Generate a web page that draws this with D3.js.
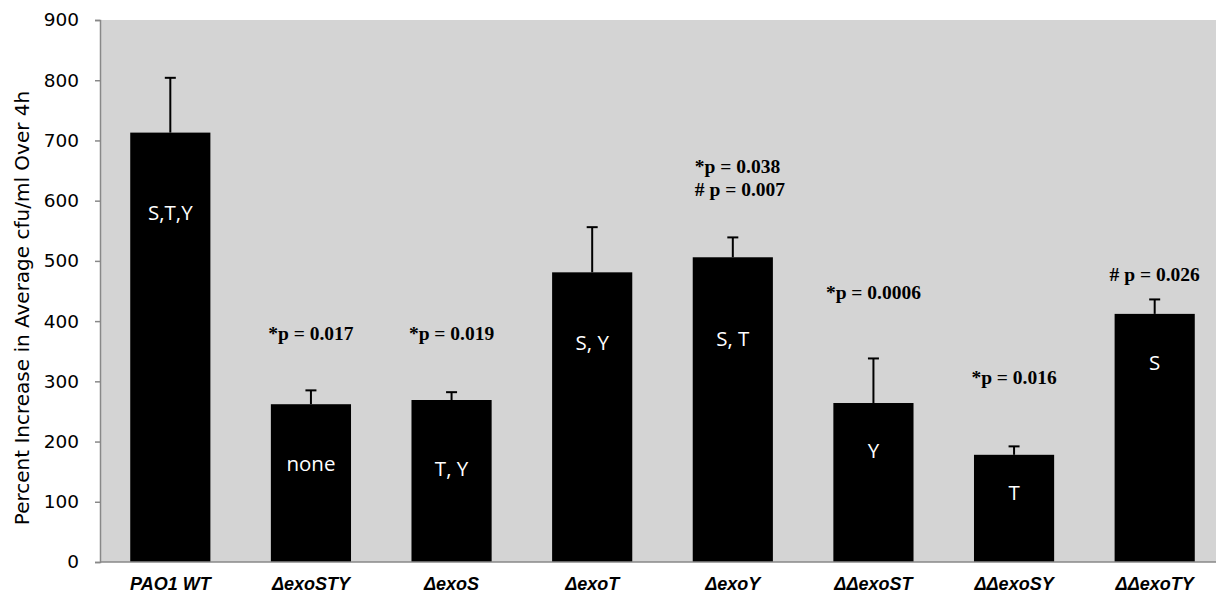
<!DOCTYPE html>
<html><head><meta charset="utf-8">
<script src="https://cdn.jsdelivr.net/npm/d3@7"></script>
<style>body{margin:0;background:#fff;}svg{display:block;}</style>
</head><body>
<svg id="chart" width="1216" height="595"></svg>
<script>
const categories = ["PAO1 WT","ΔexoSTY","ΔexoS","ΔexoT","ΔexoY","ΔΔexoST","ΔΔexoSY","ΔΔexoTY"];
const values = [713, 262, 269, 481, 506, 264, 178, 412];
const errors = [91, 23, 13, 75, 33, 74, 14, 24];
const barLabels = ["S,T,Y","none","T, Y","S, Y","S, T","Y","T","S"];
const barLabelAt = [581, 164, 156, 365, 372, 186, 116, 332];
const annotations = [[], ["*p = 0.017"], ["*p = 0.019"], [], ["*p = 0.038","# p = 0.007"], ["*p = 0.0006"], ["*p = 0.016"], ["# p = 0.026"]];
const annotationAt = [0, 380, 380, 0, 658, 447, 306, 478];
const yTicks = [0,100,200,300,400,500,600,700,800,900];
const yTitle = "Percent Increase in Average cfu/ml Over 4h";

(function(){
const svg = d3.select("#chart");
const mL = 100, mT = 20, mB = 562, mR = 1225;
const x = d3.scaleBand().domain(categories).range([mL, mR]).paddingInner(0.43).paddingOuter(0.215);
const y = d3.scaleLinear().domain([0, 900]).range([mB, mT]);

svg.append("rect").attr("x", mL).attr("y", mT).attr("width", mR - mL).attr("height", mB - mT).attr("fill", "#d4d4d4");

// bars
svg.selectAll("rect.bar").data(values).join("rect").attr("class","bar")
  .attr("x", (d,i) => x(categories[i])).attr("width", x.bandwidth())
  .attr("y", d => y(d)).attr("height", d => y(0) - y(d)).attr("fill", "#000");

// error bars
const eg = svg.append("g").attr("stroke", "#000").attr("stroke-width", 2);
values.forEach((v, i) => {
  const cx = x(categories[i]) + x.bandwidth()/2;
  eg.append("line").attr("x1", cx).attr("x2", cx).attr("y1", y(v)).attr("y2", y(v + errors[i]));
  eg.append("line").attr("x1", cx - 5.5).attr("x2", cx + 5.5).attr("y1", y(v + errors[i])).attr("y2", y(v + errors[i]));
});

// inside labels
svg.selectAll("text.bl").data(barLabels).join("text").attr("class","bl")
  .attr("x", (d,i) => x(categories[i]) + x.bandwidth()/2).attr("y", (d,i) => y(barLabelAt[i]))
  .attr("text-anchor","middle").attr("dominant-baseline","central")
  .attr("fill","#fff").attr("font-family","'Open Sans', sans-serif").attr("font-size", 20.5).text(d => d);

// annotations
annotations.forEach((lines, i) => {
  if (!lines.length) return;
  const cx = x(categories[i]) + x.bandwidth()/2;
  if (lines.length === 1) {
    svg.append("text").attr("x", cx).attr("y", y(annotationAt[i]))
      .attr("text-anchor","middle").attr("dominant-baseline","central")
      .attr("font-family","'Liberation Serif', serif").attr("font-weight","bold").attr("font-size", 19.5)
      .attr("fill","#000").text(lines[0]);
  } else {
    const t = svg.append("text").attr("x", cx - 38).attr("y", y(annotationAt[i]))
      .attr("text-anchor","start").attr("dominant-baseline","central")
      .attr("font-family","'Liberation Serif', serif").attr("font-weight","bold").attr("font-size", 19.5)
      .attr("fill","#000");
    lines.forEach((l, k) => t.append("tspan").attr("x", cx - 38).attr("dy", k === 0 ? 0 : 23).text(l));
  }
});

// y axis
const yAxis = d3.axisLeft(y).tickValues(yTicks).tickSize(5).tickPadding(16);
const ya = svg.append("g").attr("transform", `translate(${mL},0)`).call(yAxis);
ya.select(".domain").attr("stroke", "#888").attr("stroke-width", 1.5);
ya.selectAll(".tick line").attr("stroke", "#888").attr("stroke-width", 1.5);
ya.selectAll(".tick text").attr("font-family","'DejaVu Sans', Verdana, sans-serif").attr("font-size", 18.5).attr("fill","#000");

// x baseline
svg.append("line").attr("x1", mL).attr("x2", mR).attr("y1", mB).attr("y2", mB).attr("stroke", "#888").attr("stroke-width", 1.5);

// x labels
svg.selectAll("text.cat").data(categories).join("text").attr("class","cat")
  .attr("x", d => x(d) + x.bandwidth()/2).attr("y", 584)
  .attr("text-anchor","middle").attr("dominant-baseline","central")
  .attr("font-family","'Liberation Sans', Arial, sans-serif").attr("font-weight","bold").attr("font-style","italic")
  .attr("font-size", 18).attr("fill","#000").text(d => d);

// y title
svg.append("text").attr("transform", `translate(22,${(mT+mB)/2+17}) rotate(-90)`)
  .attr("text-anchor","middle").attr("dominant-baseline","central")
  .attr("font-family","'DejaVu Sans', Verdana, sans-serif").attr("font-size", 20).attr("fill","#000").text(yTitle);
})();
</script>
</body></html>
